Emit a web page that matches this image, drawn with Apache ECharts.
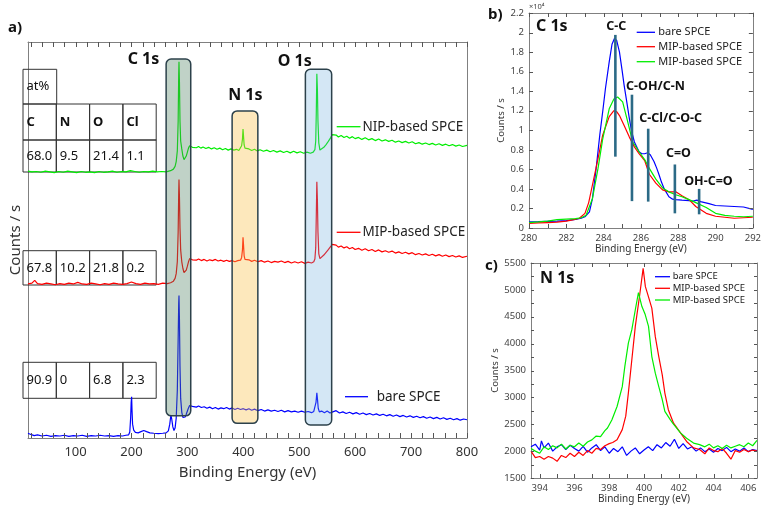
<!DOCTYPE html>
<html>
<head>
<meta charset="utf-8">
<script src="https://cdn.jsdelivr.net/npm/echarts@6/dist/echarts.min.js"></script>
<style>
  html, body { margin: 0; padding: 0; background: #fff; }
  #chart { width: 764px; height: 509px; }
</style>
</head>
<body>
<div id="chart"></div>
<script>
// ---- a) survey spectra, [binding energy (eV), counts in arbitrary units] ----
var surveyNIP = [
  [15,67.4],[22,67.2],[30,67.3],[38,67.1],[46,67.4],[54,67.2],[62,67.0],[70,67.3],[78,67.1],[86,67.4],
  [94,67.2],[102,67.0],[110,67.3],[118,67.1],[126,67.2],[134,67.0],[142,67.3],[150,67.1],[158,67.2],[166,67.4],
  [174,67.1],[182,67.3],[190,67.2],[198,67.5],[206,67.3],[214,67.1],[222,67.3],[230,67.2],[238,67.4],[246,67.2],
  [254,67.3],[262,67.2],[270,67.5],[275,67.9],[278,68.6],[280,69.8],[282,72.5],[283.5,80],[284.5,92],[285,95],
  [285.8,90],[286.8,80],[288,75],[290,73],[292,71.2],[294,70.3],[296,70.5],[298,71.2],[300,72.2],[302,73.2],
  [304,73.8],[306,74.0],[309,73.4],[312,73.7],[316,73.3],[320,73.6],[324,73.2],[328,73.5],[333,73.1],[338,73.4],
  [343,73.0],[348,73.3],[353,72.9],[358,73.2],[363,72.8],[368,73.1],[373,72.7],[378,73.0],[383,72.7],[388,72.9],
  [392,72.6],[395,73.0],[397,73.8],[398.5,75.5],[399.5,78],[400.5,76],[401.5,74],[403,73.2],[406,72.8],[410,73.0],
  [415,72.6],[420,72.9],[425,72.5],[430,72.8],[436,72.4],[442,72.7],[448,72.3],[454,72.6],[460,72.2],[466,72.5],
  [472,72.1],[478,72.4],[484,72.0],[490,72.4],[496,72.0],[502,72.3],[508,71.9],[514,72.2],[520,71.9],[525,72.2],
  [528,72.8],[529.5,75],[530.5,82],[531.5,92],[532.5,88],[533.5,80],[535,74.5],[537,72.7],[540,72.9],[544,73.4],
  [548,74.1],[552,74.9],[556,75.8],[559,76.6],[562,76.2],[566,76.5],[570,76.0],[575,76.4],[580,75.9],[585,76.2],
  [590,75.7],[595,76.1],[600,75.6],[606,75.9],[612,75.4],[618,75.8],[624,75.3],[630,75.6],[636,75.1],[642,75.5],
  [648,75.0],[654,75.3],[660,74.9],[666,75.2],[672,74.7],[678,75.0],[684,74.6],[690,74.9],[696,74.5],[702,74.8],
  [708,74.3],[714,74.6],[720,74.2],[726,74.5],[732,74.1],[738,74.4],[744,74.0],[750,74.3],[756,73.9],[762,74.2],
  [768,73.8],[774,74.1],[780,73.7],[786,74.0],[792,73.6],[800,73.9]
];
var surveyMIP = [
  [15,38.9],[22,39.1],[27,39.8],[32,39.0],[40,38.8],[48,39.1],[56,38.9],[64,38.7],[72,39.0],[80,38.8],
  [88,39.1],[96,38.9],[104,39.3],[112,38.9],[120,38.8],[128,39.1],[136,38.9],[144,38.7],[152,39.0],[160,38.8],
  [168,39.1],[176,38.9],[184,38.8],[192,39.0],[200,39.4],[208,39.0],[216,38.8],[224,39.1],[232,38.9],[240,39.0],
  [248,38.8],[256,39.1],[264,39.0],[270,39.2],[275,39.6],[278,40.3],[280,41.5],[282,44.5],[283.5,52],[284.5,62],
  [285,65.3],[285.8,61],[286.8,53],[288,47.5],[290,44.5],[292,42.8],[294,41.8],[296,41.7],[298,42.4],[300,43.4],
  [302,44.5],[304,45.3],[306,45.6],[309,45.0],[312,45.3],[316,44.9],[320,45.2],[325,44.8],[330,45.1],[335,44.7],
  [340,45.0],[345,44.8],[350,45.1],[355,44.7],[360,44.9],[365,44.6],[370,44.9],[375,44.6],[380,44.8],[385,44.5],
  [390,44.8],[395,44.9],[397,45.6],[398.5,47.5],[399.5,50.7],[400.5,48.5],[401.5,46],[403,45.1],[406,44.7],[410,45.0],
  [415,44.6],[420,44.9],[426,44.5],[432,44.8],[438,44.4],[444,44.7],[450,44.3],[456,44.6],[462,44.4],[468,44.7],
  [474,44.3],[480,44.6],[486,44.2],[492,44.5],[498,44.2],[504,44.5],[510,44.1],[516,44.4],[522,44.2],[526,44.5],
  [528,45.2],[529.5,48],[530.5,56],[531.5,64.7],[532.5,60],[533.5,52],[535,46.5],[537,45.3],[540,45.6],[544,46.2],
  [548,46.9],[552,47.6],[556,48.3],[559,48.9],[562,48.4],[566,48.7],[570,48.2],[575,48.5],[580,48.0],[585,48.3],
  [590,47.8],[595,48.1],[600,47.6],[606,47.9],[612,47.4],[618,47.8],[624,47.3],[630,47.6],[636,47.1],[642,47.5],
  [648,47.0],[654,47.3],[660,46.9],[666,47.2],[672,46.7],[678,47.0],[684,46.6],[690,46.9],[696,46.5],[702,46.8],
  [708,46.3],[714,46.6],[720,46.2],[726,46.5],[732,46.1],[738,46.4],[744,46.0],[750,46.3],[756,45.9],[762,46.2],
  [768,45.8],[774,46.1],[780,45.7],[786,46.0],[792,45.6],[800,45.9]
];
var surveyBare = [
  [15,1.2],[20,0.9],[26,0.6],[32,0.8],[40,0.5],[48,0.7],[56,0.4],[64,0.6],[72,0.5],[80,0.7],
  [88,0.4],[96,0.6],[104,0.5],[112,0.7],[120,0.4],[128,0.6],[136,0.5],[144,0.7],[152,0.5],[160,0.6],
  [168,0.4],[176,0.6],[184,0.5],[190,0.7],[195,0.8],[197,1.5],[198.5,5],[199.5,9],[200.3,10.4],[201,7],
  [202,3.5],[204,2.0],[207,1.4],[212,1.3],[217,1.6],[222,1.9],[227,1.6],[233,1.3],[240,1.2],[248,1.1],
  [256,1.2],[262,1.3],[266,1.8],[268.5,3.5],[270.5,5.8],[272,4.8],[274,2.8],[276,1.9],[278,2.5],[280,5],
  [282,12],[283.5,25],[284.5,34],[285,36],[285.8,30],[286.8,18],[288,10],[290,6.5],[292,5.2],[294,5.0],
  [296,5.3],[298,6],[300,6.8],[302,7.6],[304,8.2],[306,8.4],[309,8.0],[312,8.2],[316,7.8],[320,8.1],
  [325,7.7],[330,7.9],[335,7.5],[340,7.8],[345,7.4],[350,7.7],[355,7.3],[360,7.6],[365,7.4],[370,7.7],
  [375,7.3],[380,7.6],[385,7.2],[390,7.5],[395,7.2],[400,7.4],[405,7.1],[410,7.4],[415,7.0],[420,7.3],
  [426,6.9],[432,7.2],[438,6.8],[444,7.1],[450,6.8],[456,7.0],[462,6.7],[468,7.0],[474,6.6],[480,6.9],
  [486,6.6],[492,6.8],[498,6.5],[504,6.8],[510,6.5],[516,6.7],[522,6.4],[526,6.7],[528.5,7.2],[530,9],
  [531.5,11.4],[532.5,10],[534,7.5],[536,6.6],[540,6.8],[545,6.4],[550,6.8],[555,6.3],[560,6.6],[566,6.9],
  [572,6.3],[578,6.6],[584,6.2],[590,6.5],[596,6.1],[602,6.4],[608,6.0],[614,6.3],[620,5.9],[626,6.2],
  [632,5.8],[638,6.1],[644,5.7],[650,6.0],[656,5.6],[662,5.9],[668,5.5],[674,5.8],[680,5.4],[686,5.7],
  [692,5.3],[698,5.6],[704,5.2],[710,5.5],[716,5.1],[722,5.4],[728,5.0],[734,5.3],[740,4.9],[746,5.2],
  [752,4.8],[758,5.1],[764,4.7],[770,5.0],[776,4.6],[782,4.9],[788,4.5],[794,4.8],[800,4.6]
];

// highlighted regions of the survey
var regionNames = ['C 1s', 'N 1s', 'O 1s'];
var regionFrom = [262, 380, 511];
var regionTo = [306, 426, 558];

// atomic percentages (C, N, O, Cl)
var tableCols = ['C', 'N', 'O', 'Cl'];
var atNIP = [68.0, 9.5, 21.4, 1.1];
var atMIP = [67.8, 10.2, 21.8, 0.2];
var atBare = [90.9, 0, 6.8, 2.3];

// ---- b) C 1s high resolution, counts / s ----
var c1sBare = [
  [280,640],[280.5,650],[281,680],[281.5,700],[282,760],[282.5,880],[282.8,1000],[283,1150],[283.24,1660],[283.4,3000],
  [283.6,6100],[283.8,9600],[283.95,11900],[284.1,14300],[284.3,17000],[284.45,18800],[284.58,19400],[284.7,19200],[284.85,18000],[285,16000],
  [285.1,14600],[285.25,12800],[285.38,11200],[285.5,9900],[285.65,8800],[285.9,7800],[286.05,7600],[286.2,7600],[286.36,7700],[286.5,7500],
  [286.7,6800],[286.85,6100],[286.98,5400],[287.1,4700],[287.25,4000],[287.5,3200],[287.7,2950],[287.87,2900],[288.2,2850],[288.58,2800],
  [288.8,2750],[289.0,2850],[289.2,2700],[289.65,2500],[290,2300],[290.5,2250],[291,2200],[291.5,2150],[292,1900]
];
var c1sMIP = [
  [280,480],[280.5,520],[281,560],[281.5,600],[282,700],[282.4,850],[282.7,1000],[283.0,1500],[283.2,2600],[283.4,4400],
  [283.7,7100],[283.95,9500],[284.3,11400],[284.55,12000],[284.7,11900],[284.85,11500],[285.1,10500],[285.38,9300],[285.65,8300],[285.9,7600],
  [286.2,6900],[286.45,5500],[286.8,4600],[287.16,3900],[287.5,3700],[287.87,3700],[288.2,3300],[288.58,2900],[288.94,2200],[289.5,1500],
  [290,1200],[290.5,1100],[291,1000],[291.5,1050],[292,1100]
];
var c1sNIP = [
  [280,550],[280.5,620],[281,700],[281.5,850],[282,900],[282.5,950],[282.8,1050],[283.06,1300],[283.4,3000],[283.7,6100],
  [283.95,9100],[284.3,12200],[284.55,13200],[284.75,13400],[285.02,12900],[285.3,10800],[285.56,8800],[285.9,7800],[286.2,7000],[286.45,6100],
  [286.8,5000],[287.16,4100],[287.5,3700],[287.87,3400],[288.2,3200],[288.58,2900],[288.94,2600],[289.5,2100],[290,1500],[290.5,1300],
  [291,1200],[291.5,1150],[292,1200]
];
// component positions
var compNames = ['C-C', 'C-OH/C-N', 'C-Cl/C-O-C', 'C=O', 'OH-C=O'];
var compEnergy = [284.63, 285.52, 286.39, 287.82, 289.12];
var compLow = [7300, 2750, 2700, 1500, 1400];
var compHigh = [19760, 13640, 10160, 6500, 4000];

// ---- c) N 1s high resolution, counts / s ----
var n1sBare = [
  [393.5,2080],[393.75,2130],[394,2020],[394.1,2190],[394.25,2060],[394.5,2150],[394.75,2000],[395,2080],[395.25,2120],[395.5,2030],
  [395.75,2110],[396,2050],[396.25,2000],[396.5,2090],[396.75,1980],[397,2060],[397.25,2120],[397.5,2010],[397.75,2080],[398,1960],
  [398.25,2050],[398.5,1990],[398.75,2080],[399,1920],[399.25,2000],[399.5,2060],[399.75,1950],[400,2020],[400.25,2080],[400.5,2010],
  [400.75,2120],[401,2060],[401.25,2160],[401.5,2090],[401.75,2220],[402,2050],[402.25,2140],[402.5,2040],[402.75,2080],[403,2000],
  [403.25,2060],[403.5,1990],[403.75,2040],[404,1980],[404.25,2050],[404.5,2010],[404.75,2070],[405,1990],[405.25,2040],[405.5,2000],
  [405.75,2060],[406,1990],[406.25,2030],[406.5,2010]
];
var n1sMIP = [
  [393.5,2000],[393.75,1880],[394,1900],[394.25,1850],[394.5,1900],[394.75,1870],[395,1810],[395.25,1920],[395.5,1880],[395.75,1960],
  [396,1900],[396.25,1980],[396.5,1920],[396.75,2010],[397,1960],[397.25,2050],[397.5,2030],[397.75,2100],[398,2140],[398.2,2160],
  [398.45,2210],[398.75,2400],[398.95,2650],[399.1,3080],[399.3,3700],[399.5,4320],[399.75,4900],[399.95,5400],[400.08,5060],[400.25,4880],
  [400.45,4660],[400.65,4130],[400.85,3760],[401.05,3420],[401.2,3080],[401.4,2770],[401.7,2520],[402.1,2340],[402.45,2180],[402.85,2060],
  [403.2,2030],[403.5,1950],[403.75,2060],[404,2010],[404.25,1990],[404.5,2050],[404.75,1960],[405,1850],[405.25,2010],[405.5,1980],
  [405.75,2030],[406,1990],[406.25,2020],[406.5,2000]
];
var n1sNIP = [
  [393.5,2050],[393.75,2000],[394,1960],[394.25,2080],[394.5,2030],[394.75,2100],[395,2060],[395.25,2130],[395.5,2040],[395.75,2110],
  [396,2080],[396.25,2150],[396.5,2090],[396.75,2170],[397,2210],[397.25,2280],[397.5,2270],[397.75,2380],[397.9,2430],[398.15,2580],
  [398.45,2830],[398.75,3200],[398.9,3580],[399.1,4010],[399.3,4260],[399.5,4630],[399.68,4950],[399.88,4690],[400.07,4540],[400.26,4320],
  [400.45,3760],[400.65,3450],[400.85,3200],[401.05,2960],[401.2,2740],[401.5,2590],[401.65,2520],[401.8,2460],[402.1,2340],[402.45,2240],
  [402.85,2150],[403.2,2120],[403.5,2080],[403.75,2130],[404,2060],[404.25,2100],[404.5,2050],[404.75,2110],[405,2060],[405.25,2090],
  [405.5,2120],[405.75,2080],[406,2150],[406.25,2100],[406.5,2200]
];

// axis ticks and labels
var surveyTicks = [20,40,60,80,100,120,140,160,180,200,220,240,260,280,300,320,340,360,380,400,
  420,440,460,480,500,520,540,560,580,600,620,640,660,680,700,720,740,760,780,800];
var surveyLabels = [100,200,300,400,500,600,700,800];
var c1sTicks = [280,281,282,283,284,285,286,287,288,289,290,291,292];
var c1sYTicks = [0,2000,4000,6000,8000,10000,12000,14000,16000,18000,20000,22000];
var n1sTicks = [394,395,396,397,398,399,400,401,402,403,404,405,406];
var n1sLabels = [394,396,398,400,402,404,406];
var n1sYTicks = [1500,1750,2000,2250,2500,2750,3000,3250,3500,3750,4000,4250,4500,4750,5000,5250,5500];

var FONT = '"Noto Sans", sans-serif';
var BLUE = '#0000ff', RED = '#ff0000', GREEN = '#00ee00';
var AXIS = '#808080', TICK = '#555';

var regionFill = ['rgba(80,130,100,0.36)', 'rgba(250,190,70,0.36)', 'rgba(100,170,220,0.28)'];
var regionBox = [[5.6, 95.7], [3.7, 82.6], [3.3, 93.1]];
var regionLabel = [[221.5, 95.7], [403.7, 86.5], [492, 95.2]];
var compLabel = [[284.68, 20600, 'center'], [285.2, 14450, 'left'], [285.91, 11260, 'left'],
                 [287.34, 7650, 'left'], [288.32, 4760, 'left']];

function renderRegion(params, api) {
    var i = params.dataIndex;
    var tl = api.coord([api.value(0), regionBox[i][1]]);
    var br = api.coord([api.value(1), regionBox[i][0]]);
    var lp = api.coord(regionLabel[i]);
    return {
        type: 'group',
        children: [
            { type: 'rect', shape: { x: tl[0], y: tl[1], width: br[0] - tl[0], height: br[1] - tl[1], r: 5 },
              style: { fill: regionFill[i], stroke: '#2c414b', lineWidth: 1.5 } },
            { type: 'text', x: lp[0], y: lp[1],
              style: { text: regionNames[i], fill: '#111', font: 'bold 16px ' + FONT, align: 'center', verticalAlign: 'middle' } }
        ]
    };
}

function renderComp(params, api) {
    var i = params.dataIndex;
    var top = api.coord([api.value(0), compHigh[i]]);
    var bot = api.coord([api.value(0), compLow[i]]);
    var lp = api.coord([compLabel[i][0], compLabel[i][1]]);
    return {
        type: 'group',
        children: [
            { type: 'line', shape: { x1: top[0], y1: top[1], x2: bot[0], y2: bot[1] },
              style: { stroke: '#2b6a86', lineWidth: 2.6 } },
            { type: 'text', x: lp[0], y: lp[1],
              style: { text: compNames[i], fill: '#111', font: 'bold 12.5px ' + FONT, align: compLabel[i][2], verticalAlign: 'middle' } }
        ]
    };
}

// inward ticks on bottom+top (x) or left+right (y) of a grid
function xTickRenderer(len) {
    return function (params, api) {
        var cs = params.coordSys;
        var x = Math.round(api.coord([api.value(0), api.value(1)])[0]) + 0.5;
        var yb = cs.y + cs.height, yt = cs.y;
        return { type: 'group', children: [
            { type: 'line', shape: { x1: x, y1: yb, x2: x, y2: yb - len }, style: { stroke: TICK, lineWidth: 1 } },
            { type: 'line', shape: { x1: x, y1: yt, x2: x, y2: yt + len }, style: { stroke: TICK, lineWidth: 1 } }
        ] };
    };
}
function yTickRenderer(len) {
    return function (params, api) {
        var cs = params.coordSys;
        var y = Math.round(api.coord([api.value(0), api.value(1)])[1]) + 0.5;
        var xl = cs.x, xr = cs.x + cs.width;
        return { type: 'group', children: [
            { type: 'line', shape: { x1: xl, y1: y, x2: xl + len, y2: y }, style: { stroke: TICK, lineWidth: 1 } },
            { type: 'line', shape: { x1: xr, y1: y, x2: xr - len, y2: y }, style: { stroke: TICK, lineWidth: 1 } }
        ] };
    };
}
function tickSeries(renderer, data, xi, yi) {
    return { type: 'custom', xAxisIndex: xi, yAxisIndex: yi, z: 5, silent: true, clip: false,
             renderItem: renderer, data: data };
}

function lineSeries(name, data, color, xi, yi) {
    return { name: name, type: 'line', data: data, xAxisIndex: xi, yAxisIndex: yi,
             showSymbol: false, symbol: 'none', z: 2,
             lineStyle: { color: color, width: 1.2 }, itemStyle: { color: color } };
}

// table of atomic percentages drawn as graphic cells
function cell(x, y, w, h, text, bold) {
    return [
        { type: 'rect', shape: { x: x, y: y, width: w, height: h }, style: { fill: 'rgba(0,0,0,0)', stroke: '#333', lineWidth: 1 }, z: 1 },
        { type: 'text', x: x + 3.5, y: y + h / 2, style: { text: text, fill: '#111', font: (bold ? 'bold ' : '') + '13px ' + FONT, verticalAlign: 'middle' }, z: 1 }
    ];
}
function fmt(v) { return v === 0 ? '0' : v.toFixed(1); }
function tableRow(vals, y, h) {
    var out = [];
    for (var i = 0; i < vals.length; i++) out = out.concat(cell(23 + i * 33.3, y, 33.3, h, vals[i], false));
    return out;
}
var graphics = [];
graphics = graphics.concat(cell(23, 69.3, 33.7, 34.7, 'at%', false));
var hdr = [];
for (var k = 0; k < tableCols.length; k++) hdr = hdr.concat(cell(23 + k * 33.3, 104, 33.3, 36, tableCols[k], true));
graphics = graphics.concat(hdr);
graphics = graphics.concat(tableRow(atNIP.map(fmt), 140, 32));
graphics = graphics.concat(tableRow(atMIP.map(fmt), 250.7, 34.3));
graphics = graphics.concat(tableRow(atBare.map(fmt), 362.3, 36));

function legendItem(x1, x2, y, tx, text, color, size) {
    return [
        { type: 'line', shape: { x1: x1, y1: y, x2: x2, y2: y }, style: { stroke: color, lineWidth: 1.3 }, z: 5 },
        { type: 'text', x: tx, y: y, style: { text: text, fill: '#222', font: size + 'px ' + FONT, verticalAlign: 'middle' }, z: 5 }
    ];
}
graphics = graphics.concat(
    legendItem(336.7, 360.5, 126.7, 362.5, 'NIP-based SPCE', GREEN, 13.5),
    legendItem(336.7, 360.5, 232.3, 362.5, 'MIP-based SPCE', RED, 13.5),
    legendItem(345, 368, 396.7, 376.7, 'bare SPCE', BLUE, 13.5),
    legendItem(636.7, 655, 32.3, 658.3, 'bare SPCE', BLUE, 11),
    legendItem(636.7, 655, 46.7, 658.3, 'MIP-based SPCE', RED, 11),
    legendItem(636.7, 655, 61.7, 658.3, 'MIP-based SPCE', GREEN, 11),
    legendItem(655, 670, 276.7, 672.7, 'bare SPCE', BLUE, 9.5),
    legendItem(655, 670, 288.3, 672.7, 'MIP-based SPCE', RED, 9.5),
    legendItem(655, 670, 300, 672.7, 'MIP-based SPCE', GREEN, 9.5)
);
graphics.push(
    { type: 'text', x: 8, y: 28, style: { text: 'a)', fill: '#111', font: 'bold 15px ' + FONT, verticalAlign: 'middle' } },
    { type: 'text', x: 488, y: 15, style: { text: 'b)', fill: '#111', font: 'bold 15px ' + FONT, verticalAlign: 'middle' } },
    { type: 'text', x: 485, y: 266, style: { text: 'c)', fill: '#111', font: 'bold 15px ' + FONT, verticalAlign: 'middle' } },
    { type: 'text', x: 536, y: 26, style: { text: 'C 1s', fill: '#111', font: 'bold 16px ' + FONT, verticalAlign: 'middle' } },
    { type: 'text', x: 540, y: 278.5, style: { text: 'N 1s', fill: '#111', font: 'bold 16px ' + FONT, verticalAlign: 'middle' } },
    { type: 'text', x: 529, y: 7, style: { text: '×10⁴', fill: '#444', font: '7.5px ' + FONT, verticalAlign: 'middle' } }
);

function frameAxis(grid, pos, extra) {
    var a = { type: 'value', gridIndex: grid, position: pos,
              axisLine: { show: true, onZero: false, lineStyle: { color: AXIS } },
              axisTick: { show: false },
              axisLabel: { show: false }, splitLine: { show: false } };
    for (var key in extra) a[key] = extra[key];
    return a;
}

var myChart = echarts.init(document.getElementById('chart'), null, { renderer: 'canvas' }),
    option = {
        animation: false,
        backgroundColor: '#fff',
        textStyle: { fontFamily: FONT },
        grid: [
            { left: 23, top: 42, width: 444, height: 396 },
            { left: 529, top: 13, width: 225, height: 215 },
            { left: 531, top: 263, width: 226, height: 215 }
        ],
        xAxis: [
            frameAxis(0, 'bottom', {
                min: 15, max: 800,
                axisLabel: { show: true, customValues: surveyLabels, color: '#333', fontSize: 13, margin: 8, fontFamily: FONT },
                name: 'Binding Energy (eV)', nameLocation: 'middle', nameGap: 27,
                nameTextStyle: { color: '#333', fontSize: 15, fontFamily: FONT }
            }),
            frameAxis(0, 'top', { min: 15, max: 800 }),
            frameAxis(1, 'bottom', {
                min: 280, max: 292, interval: 2,
                axisLabel: { show: true, color: '#444', fontSize: 9.5, margin: 5, fontFamily: FONT },
                name: 'Binding Energy (eV)', nameLocation: 'middle', nameGap: 15,
                nameTextStyle: { color: '#333', fontSize: 10, fontFamily: FONT }
            }),
            frameAxis(1, 'top', { min: 280, max: 292, interval: 2 }),
            frameAxis(2, 'bottom', {
                min: 393.5, max: 406.5,
                axisLabel: { show: true, customValues: n1sLabels, color: '#444', fontSize: 9.5, margin: 5, fontFamily: FONT },
                name: 'Binding Energy (eV)', nameLocation: 'middle', nameGap: 16,
                nameTextStyle: { color: '#333', fontSize: 10, fontFamily: FONT }
            }),
            frameAxis(2, 'top', { min: 393.5, max: 406.5 })
        ],
        yAxis: [
            frameAxis(0, 'left', {
                min: 0, max: 100,
                name: 'Counts / s', nameLocation: 'middle', nameGap: 5,
                nameTextStyle: { color: '#333', fontSize: 15, fontFamily: FONT }
            }),
            frameAxis(0, 'right', { min: 0, max: 100 }),
            frameAxis(1, 'left', {
                min: 0, max: 22000, interval: 2000,
                axisLabel: { show: true, color: '#444', fontSize: 9.5, margin: 5, fontFamily: FONT,
                             formatter: function (v) { return String(Math.round(v / 1000) / 10); } },
                name: 'Counts / s', nameLocation: 'middle', nameGap: 17,
                nameTextStyle: { color: '#333', fontSize: 9.5, fontFamily: FONT }
            }),
            frameAxis(1, 'right', { min: 0, max: 22000, interval: 2000 }),
            frameAxis(2, 'left', {
                min: 1500, max: 5500, interval: 500,
                axisLabel: { show: true, color: '#444', fontSize: 9.5, margin: 5, fontFamily: FONT,
                             formatter: function (v) { return String(v); } },
                name: 'Counts / s', nameLocation: 'middle', nameGap: 25,
                nameTextStyle: { color: '#333', fontSize: 9.5, fontFamily: FONT }
            }),
            frameAxis(2, 'right', { min: 1500, max: 5500, interval: 500 })
        ],
        graphic: graphics,
        series: [
            lineSeries('NIP-based SPCE', surveyNIP, GREEN, 0, 0),
            lineSeries('MIP-based SPCE', surveyMIP, RED, 0, 0),
            lineSeries('bare SPCE', surveyBare, BLUE, 0, 0),
            {
                type: 'custom', xAxisIndex: 0, yAxisIndex: 0, z: 4, silent: true,
                renderItem: renderRegion,
                data: regionFrom.map(function (v, i) { return [v, regionTo[i]]; })
            },
            tickSeries(xTickRenderer(5), surveyTicks.map(function (v) { return [v, 0]; }), 0, 0),
            lineSeries('bare SPCE', c1sBare, BLUE, 2, 2),
            lineSeries('MIP-based SPCE', c1sMIP, RED, 2, 2),
            lineSeries('NIP-based SPCE', c1sNIP, GREEN, 2, 2),
            {
                type: 'custom', xAxisIndex: 2, yAxisIndex: 2, z: 4, silent: true,
                renderItem: renderComp,
                data: compEnergy.map(function (v) { return [v]; })
            },
            tickSeries(xTickRenderer(4), c1sTicks.map(function (v) { return [v, 0]; }), 2, 2),
            tickSeries(yTickRenderer(4), c1sYTicks.map(function (v) { return [280, v]; }), 2, 2),
            lineSeries('bare SPCE', n1sBare, BLUE, 4, 4),
            lineSeries('MIP-based SPCE', n1sMIP, RED, 4, 4),
            lineSeries('NIP-based SPCE', n1sNIP, GREEN, 4, 4),
            tickSeries(xTickRenderer(4), n1sTicks.map(function (v) { return [v, 1500]; }), 4, 4),
            tickSeries(yTickRenderer(3), n1sYTicks.map(function (v) { return [393.5, v]; }), 4, 4)
        ]
    };

myChart.setOption(option);
</script>
</body>
</html>
